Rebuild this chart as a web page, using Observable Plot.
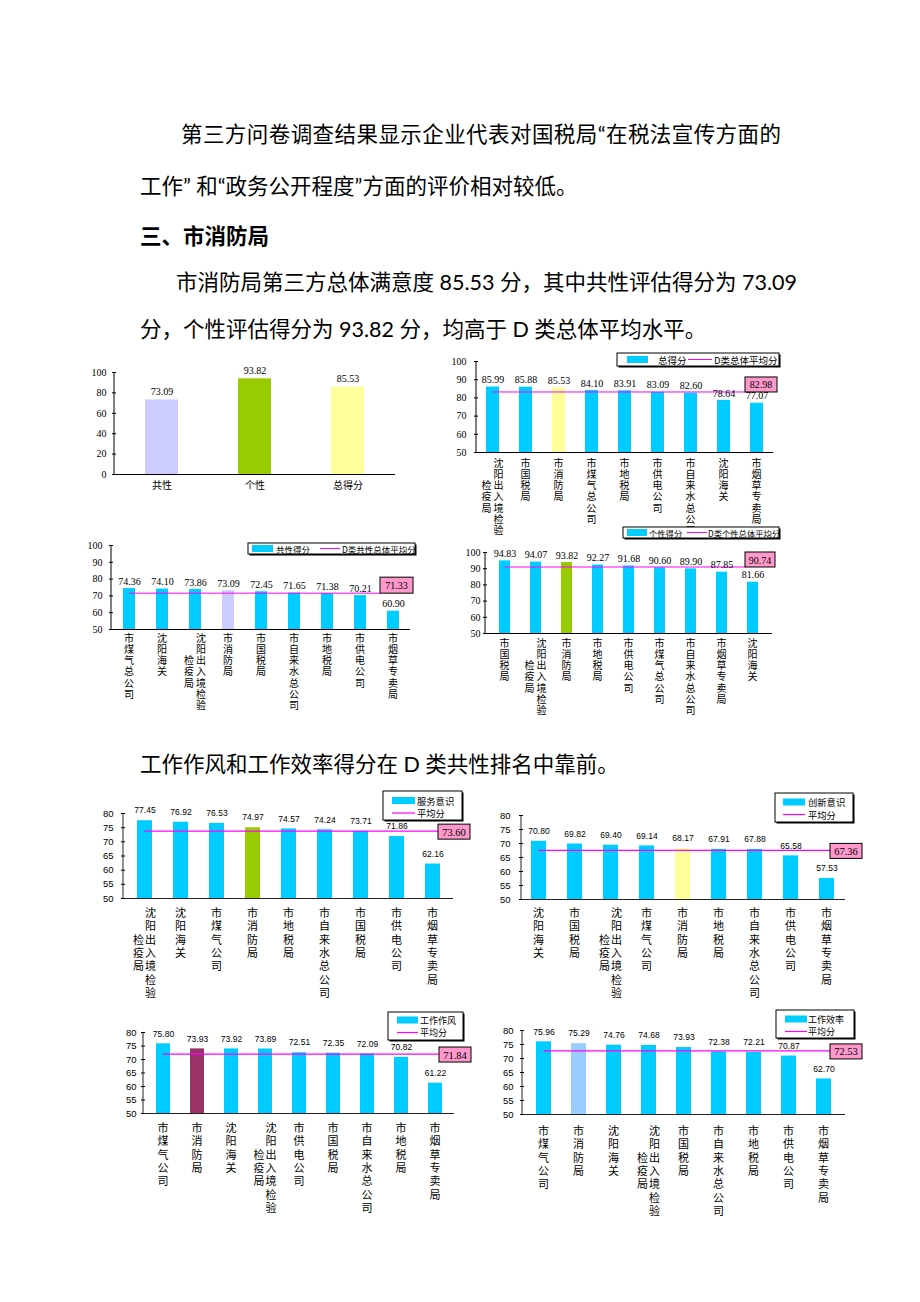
<!DOCTYPE html>
<html><head><meta charset="utf-8">
<script src="https://cdn.jsdelivr.net/npm/d3@7"></script>
<script src="https://cdn.jsdelivr.net/npm/@observablehq/plot@0.6"></script>
<style>
html,body{margin:0;padding:0;background:#fff;}
#page{position:relative;width:920px;height:1302px;overflow:hidden;background:#fff;}
.t{position:absolute;font-family:'Lato','Noto Sans CJK SC',sans-serif;font-size:21.5px;line-height:21.5px;color:#000;white-space:nowrap;}
.j{text-align:justify;text-align-last:justify;}
.h{font-weight:bold;font-family:'Noto Sans CJK SC',sans-serif;}
.c{position:absolute;}
.c svg{overflow:visible;display:block;}
</style></head><body><div id="page">
<div class="t j" style="left:181px;top:124px;width:600px">第三方问卷调查结果显示企业代表对国税局“在税法宣传方面的</div>
<div class="t" style="left:140px;top:176px">工作” 和“政务公开程度”方面的评价相对较低。</div>
<div class="t h" style="left:140px;top:224px">三、市消防局</div>
<div class="t j" style="left:176px;top:272px;width:608px">市消防局第三方总体满意度 85.53 分，其中共性评估得分为 73.09</div>
<div class="t" style="left:140px;top:319px">分，个性评估得分为 93.82 分，均高于 D 类总体平均水平。</div>
<div class="t" style="left:140px;top:754px">工作作风和工作效率得分在 D 类共性排名中靠前。</div>
</div>
<script>
// ---------- data ----------
const overviewCats = ["共性", "个性", "总得分"];
const overviewValues = [73.09, 93.82, 85.53];
const overviewTicks = [0, 20, 40, 60, 80, 100];

const totalCats = ["沈阳出入境检验检疫局","市国税局","市消防局","市煤气总公司","市地税局","市供电公司","市自来水总公司","沈阳海关","市烟草专卖局"];
const totalValues = [85.99, 85.88, 85.53, 84.10, 83.91, 83.09, 82.60, 78.64, 77.07];
const totalAvg = 82.98;
const totalLegend = ["总得分", "D类总体平均分"];

const commonCats = ["市煤气总公司","沈阳海关","沈阳出入境检验检疫局","市消防局","市国税局","市自来水总公司","市地税局","市供电公司","市烟草专卖局"];
const commonValues = [74.36, 74.10, 73.86, 73.09, 72.45, 71.65, 71.38, 70.21, 60.90];
const commonAvg = 71.33;
const commonLegend = ["共性得分", "D类共性总体平均分"];

const individualCats = ["市国税局","沈阳出入境检验检疫局","市消防局","市地税局","市供电公司","市煤气总公司","市自来水总公司","市烟草专卖局","沈阳海关"];
const individualValues = [94.83, 94.07, 93.82, 92.27, 91.68, 90.60, 89.90, 87.85, 81.66];
const individualAvg = 90.74;
const individualLegend = ["个性得分", "D类个性总体平均分"];

const upperTicks = [50, 60, 70, 80, 90, 100];
const lowerTicks = [50, 55, 60, 65, 70, 75, 80];

const serviceCats = ["沈阳出入境检验检疫局","沈阳海关","市煤气公司","市消防局","市地税局","市自来水总公司","市国税局","市供电公司","市烟草专卖局"];
const serviceValues = [77.45, 76.92, 76.53, 74.97, 74.57, 74.24, 73.71, 71.86, 62.16];
const serviceAvg = 73.60;
const serviceLegend = ["服务意识", "平均分"];

const innovationCats = ["沈阳海关","市国税局","沈阳出入境检验检疫局","市煤气公司","市消防局","市地税局","市自来水总公司","市供电公司","市烟草专卖局"];
const innovationValues = [70.80, 69.82, 69.40, 69.14, 68.17, 67.91, 67.88, 65.58, 57.53];
const innovationAvg = 67.36;
const innovationLegend = ["创新意识", "平均分"];

const styleCats = ["市煤气公司","市消防局","沈阳海关","沈阳出入境检验检疫局","市供电公司","市国税局","市自来水总公司","市地税局","市烟草专卖局"];
const styleValues = [75.80, 73.93, 73.92, 73.89, 72.51, 72.35, 72.09, 70.82, 61.22];
const styleAvg = 71.84;
const styleLegend = ["工作作风", "平均分"];

const efficiencyCats = ["市煤气公司","市消防局","沈阳海关","沈阳出入境检验检疫局","市国税局","市自来水总公司","市地税局","市供电公司","市烟草专卖局"];
const efficiencyValues = [75.96, 75.29, 74.76, 74.68, 73.93, 72.38, 72.21, 70.87, 62.70];
const efficiencyAvg = 72.53;
const efficiencyLegend = ["工作效率", "平均分"];

// ---------- styling ----------
const CYAN = "#00ccff";
const MAGENTA = "#ff00ff";
const FONT_CJK = "'Noto Sans CJK SC', sans-serif";
const FONT_SERIF = "'Liberation Serif', serif";
const FONT_SANS = "'Liberation Sans', Arial, sans-serif";

const UPPER = {axisColor:"#000", tickFont:FONT_SERIF, tickSize:10, valFont:FONT_SERIF, valSize:10, valDy:7,
  catSize:10, catSpacing:11.2, boxDx:-28, boxDy:-15, boxW:32, boxH:15, boxFont:10, avgW:1};
const LOWER = {axisColor:"#222", tickFont:FONT_SANS, tickSize:9.5, valFont:FONT_SANS, valSize:8.5, valDy:10,
  catSize:11, catSpacing:13.3, boxDx:-15, boxDy:-7, boxW:32, boxH:15, boxFont:10.5, avgW:1.2};

function columns(name) {
  const ch = Array.from(name);
  if (ch.length <= 7) return {main: ch.join(""), second: "", wrapped: false, shift: 0};
  const rest = ch.slice(7);
  return {main: ch.slice(0, 7).join(""), second: rest.join(""), wrapped: true, shift: Math.floor((7 - rest.length) / 2)};
}

function yAxisLine(color) {
  return (index, scales, values, dims) => d3.create("svg:line")
    .attr("x1", dims.marginLeft).attr("x2", dims.marginLeft)
    .attr("y1", dims.marginTop).attr("y2", dims.height - dims.marginBottom)
    .attr("stroke", color).node();
}

// vertical (stacked) category labels placed with the x band scale
function catLabels(cfg, st) {
  return (index, scales, values, dims) => {
    const x = scales.x;
    const bw = x.bandwidth ? x.bandwidth() : 0;
    const bottom = dims.height - dims.marginBottom;
    const sp = st.catSpacing, fs = st.catSize;
    const g = d3.create("svg:g").attr("font-family", FONT_CJK).attr("font-size", fs)
      .attr("fill", "#000").attr("text-anchor", "start");
    const y = bottom + cfg.catFirst - fs / 2;
    for (const cat of cfg.cats) {
      const cx = x(cat) + bw / 2;
      const c = columns(cat);
      const add = (t, dx, rows) => g.append("text")
        .attr("x", cx + dx).attr("y", y + rows * sp)
        .style("writing-mode", "vertical-rl")
        .style("letter-spacing", (sp - fs) + "px")
        .text(t);
      if (c.wrapped) { add(c.main, 6, 0); add(c.second, -6, c.shift); }
      else add(c.main, 0, 0);
    }
    return g.node();
  };
}

function avgMark(cfg, st) {
  return (index, scales, values, dims) => {
    const x = scales.x, y = scales.y;
    const yy = y(cfg.avg);
    const bw = x.bandwidth ? x.bandwidth() : 0;
    const x0 = x(cfg.cats[0]) + bw / 2;
    const right = dims.width - dims.marginRight;
    const bx = right + st.boxDx, by = yy + st.boxDy;
    const g = d3.create("svg:g");
    g.append("line").attr("x1", x0).attr("x2", bx).attr("y1", yy).attr("y2", yy)
      .attr("stroke", MAGENTA).attr("stroke-width", st.avgW);
    g.append("rect").attr("x", bx).attr("y", by).attr("width", st.boxW).attr("height", st.boxH)
      .attr("fill", "#ff99cc").attr("stroke", "#000");
    g.append("text").attr("x", bx + st.boxW / 2).attr("y", by + st.boxH / 2 + 0.5)
      .attr("text-anchor", "middle").attr("dominant-baseline", "central")
      .attr("font-size", st.boxFont).attr("font-family", FONT_SERIF).attr("fill", "#000")
      .text(cfg.avg.toFixed(2));
    return g.node();
  };
}

function legendMark(L, labels) {
  return () => {
    const g = d3.create("svg:g").attr("font-family", FONT_CJK).attr("font-size", L.font)
      .attr("fill", "#000").attr("text-anchor", "start");
    g.append("rect").attr("x", L.x + 1.5).attr("y", L.y + 1.5).attr("width", L.w).attr("height", L.h).attr("fill", "#000");
    g.append("rect").attr("x", L.x).attr("y", L.y).attr("width", L.w).attr("height", L.h)
      .attr("fill", "#fff").attr("stroke", "#000");
    if (L.layout === "row") {
      const cy = L.y + L.h / 2;
      g.append("rect").attr("x", L.x + L.sw[0]).attr("y", cy - 3.5).attr("width", L.sw[1] - L.sw[0]).attr("height", 7).attr("fill", CYAN);
      g.append("text").attr("x", L.x + L.t1).attr("y", cy).attr("dominant-baseline", "central").text(labels[0]);
      g.append("line").attr("x1", L.x + L.ln[0]).attr("x2", L.x + L.ln[1]).attr("y1", cy).attr("y2", cy).attr("stroke", MAGENTA);
      g.append("text").attr("x", L.x + L.t2).attr("y", cy).attr("dominant-baseline", "central").text(labels[1]);
    } else {
      const c1 = L.y + L.r1, c2 = L.y + L.r2;
      g.append("rect").attr("x", L.x + L.sw[0]).attr("y", c1 - 3.5).attr("width", L.sw[1] - L.sw[0]).attr("height", 7).attr("fill", CYAN);
      g.append("text").attr("x", L.x + L.t).attr("y", c1).attr("dominant-baseline", "central").text(labels[0]);
      g.append("line").attr("x1", L.x + L.sw[0]).attr("x2", L.x + L.sw[1]).attr("y1", c2).attr("y2", c2).attr("stroke", MAGENTA).attr("stroke-width", 1.2);
      g.append("text").attr("x", L.x + L.t).attr("y", c2).attr("dominant-baseline", "central").text(labels[1]);
    }
    return g.node();
  };
}

function makeChart(cfg) {
  const st = cfg.style;
  const data = cfg.cats.map((cat, i) => ({
    cat, value: cfg.values[i],
    color: cfg.colors ? cfg.colors[i] : (cat === cfg.highlight ? cfg.highlightColor : CYAN)
  }));
  const y0 = cfg.yDomain[0];
  const marks = [
    Plot.barY(data, {x: "cat", y1: y0, y2: "value", fill: "color"}),
    Plot.ruleY([y0], {stroke: st.axisColor, strokeWidth: 1.2}),
    yAxisLine(st.axisColor),
    Plot.axisY({ticks: cfg.ticks, tickSize: 4, dx: 2, tickPadding: cfg.tickPad, label: null,
      fontSize: st.tickSize, fontFamily: st.tickFont, tickFormat: d => String(d)})
  ];
  if (cfg.avg != null) marks.push(avgMark(cfg, st));
  marks.push(Plot.text(data, {x: "cat", y: "value", text: d => d.value.toFixed(2), dy: -st.valDy,
    fontSize: st.valSize, fontFamily: st.valFont, fill: "#000"}));
  if (cfg.horizontal) {
    marks.push(Plot.text(data, {x: "cat", frameAnchor: "bottom", text: "cat", dy: cfg.catDy,
      fontSize: st.catSize, fontFamily: FONT_CJK, fill: "#000"}));
  } else {
    marks.push(catLabels(cfg, st));
  }
  if (cfg.legend) marks.push(legendMark(cfg.legend, cfg.legendLabels));
  const svg = Plot.plot({
    width: cfg.w, height: cfg.h,
    marginLeft: cfg.m[0], marginRight: cfg.m[1], marginTop: cfg.m[2], marginBottom: cfg.m[3],
    x: {domain: cfg.cats, axis: null, paddingInner: cfg.pad, paddingOuter: cfg.pad / 2},
    y: {domain: cfg.yDomain, label: null},
    color: {type: "identity"},
    style: {background: "transparent", overflow: "visible", color: "#000"},
    marks
  });
  const div = document.createElement("div");
  div.className = "c";
  div.style.left = cfg.left + "px";
  div.style.top = cfg.top + "px";
  div.appendChild(svg);
  document.getElementById("page").appendChild(div);
}

// A: overview
makeChart({left: 80, top: 360, w: 330, h: 140, m: [34, 15, 12, 26], pad: 0.65,
  cats: overviewCats, values: overviewValues, colors: ["#ccccff", "#99cc00", "#ffff99"],
  yDomain: [0, 100], ticks: overviewTicks, tickPad: 6, style: {...UPPER, valDy: 8}, horizontal: true, catDy: 14});

// B: total
makeChart({left: 440, top: 345, w: 350, h: 190, m: [36, 17, 16, 83], pad: 0.6,
  cats: totalCats, values: totalValues, highlight: "市消防局", highlightColor: "#ffff99", avg: totalAvg,
  yDomain: [50, 100], ticks: upperTicks, tickPad: 8, style: UPPER, catFirst: 11,
  legend: {layout: "row", x: 177, y: 8, w: 162, h: 13, sw: [10, 31], t1: 41, ln: [71, 95], t2: 97, font: 9.5},
  legendLabels: totalLegend});

// C: common
makeChart({left: 80, top: 535, w: 350, h: 180, m: [31, 20, 10, 86], pad: 0.64,
  cats: commonCats, values: commonValues, highlight: "市消防局", highlightColor: "#ccccff", avg: commonAvg,
  yDomain: [50, 100], ticks: upperTicks, tickPad: 7, style: {...UPPER, boxDx: -30, boxW: 33, boxH: 16, boxDy: -16}, catFirst: 9,
  legend: {layout: "row", x: 168, y: 8, w: 167, h: 11, sw: [4, 25], t1: 28, ln: [72, 92], t2: 94, font: 8.5},
  legendLabels: commonLegend});

// D: individual
makeChart({left: 450, top: 520, w: 340, h: 205, m: [35, 18, 32, 92], pad: 0.64,
  cats: individualCats, values: individualValues, highlight: "市消防局", highlightColor: "#99cc00", avg: individualAvg,
  yDomain: [50, 100], ticks: upperTicks, tickPad: 3, style: {...UPPER, boxDx: -27, boxW: 30}, catFirst: 10,
  legend: {layout: "row", x: 173, y: 7, w: 156, h: 11, sw: [4, 24], t1: 26, ln: [64, 84], t2: 85, font: 8.3},
  legendLabels: individualLegend});

// E: service
makeChart({left: 80, top: 785, w: 400, h: 220, m: [43, 27, 28, 107], pad: 0.59,
  cats: serviceCats, values: serviceValues, highlight: "市消防局", highlightColor: "#99cc00", avg: serviceAvg,
  yDomain: [50, 80], ticks: lowerTicks, tickPad: 8, style: LOWER, catFirst: 15,
  legend: {layout: "col", x: 303, y: 6, w: 79, h: 29, sw: [9, 32], t: 34, r1: 9.5, r2: 22, font: 9.3},
  legendLabels: serviceLegend});

// F: innovation
makeChart({left: 490, top: 785, w: 380, h: 220, m: [31, 25, 30, 106], pad: 0.58,
  cats: innovationCats, values: innovationValues, highlight: "市消防局", highlightColor: "#ffff99", avg: innovationAvg,
  yDomain: [50, 80], ticks: lowerTicks, tickPad: 9, style: LOWER, catFirst: 14,
  legend: {layout: "col", x: 285, y: 8, w: 78, h: 29, sw: [8, 30], t: 33, r1: 9, r2: 21.5, font: 9.3},
  legendLabels: innovationLegend});

// G: work style
makeChart({left: 100, top: 1005, w: 380, h: 215, m: [43, 26, 27, 107], pad: 0.6,
  cats: styleCats, values: styleValues, highlight: "市消防局", highlightColor: "#993366", avg: styleAvg,
  yDomain: [50, 80], ticks: lowerTicks, tickPad: 5, style: LOWER, catFirst: 15,
  legend: {layout: "col", x: 288, y: 7, w: 75, h: 28, sw: [9, 30], t: 32, r1: 8, r2: 20.5, font: 9},
  legendLabels: styleLegend});

// H: efficiency
makeChart({left: 490, top: 1005, w: 380, h: 215, m: [32, 25, 25, 106], pad: 0.58,
  cats: efficiencyCats, values: efficiencyValues, highlight: "市消防局", highlightColor: "#99ccff", avg: efficiencyAvg,
  yDomain: [50, 80], ticks: lowerTicks, tickPad: 7, style: LOWER, catFirst: 17,
  legend: {layout: "col", x: 286, y: 5, w: 78, h: 28, sw: [9, 31], t: 32, r1: 9, r2: 21.5, font: 9},
  legendLabels: efficiencyLegend});
</script>
</body></html>
